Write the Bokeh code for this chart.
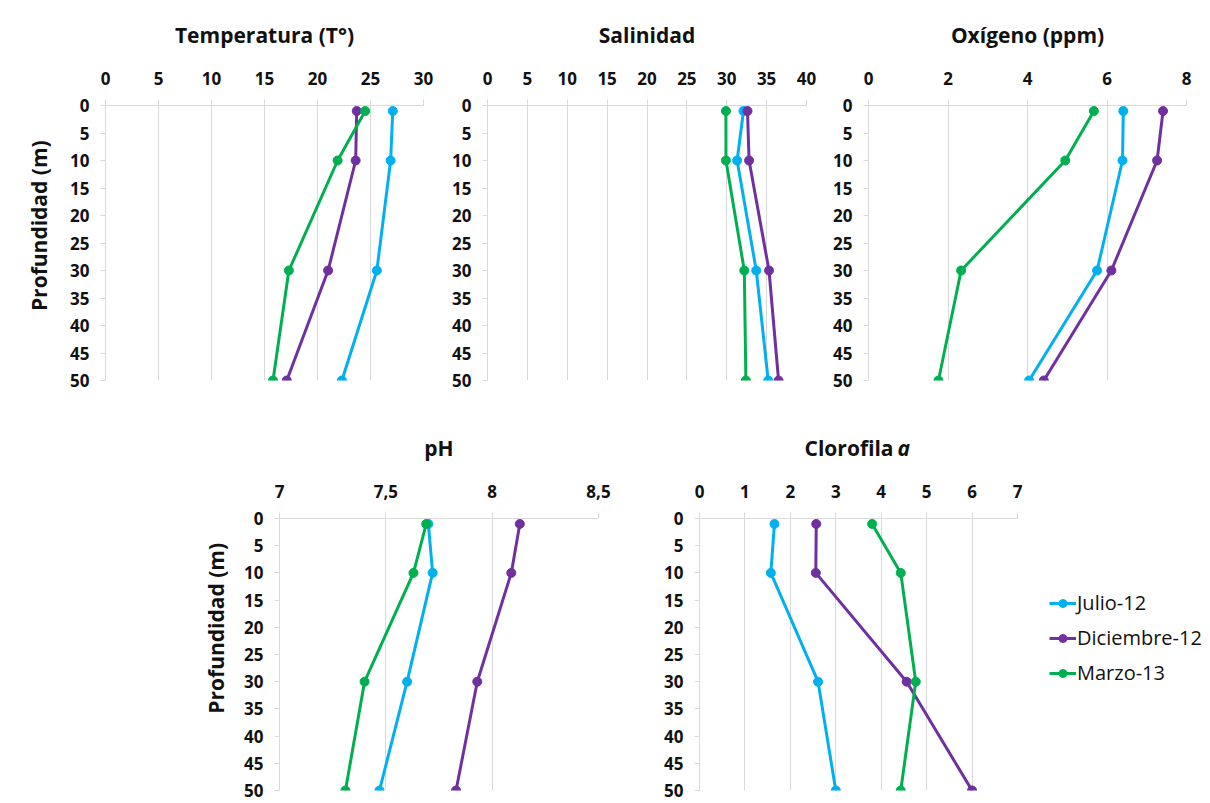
import math
from bokeh.plotting import figure
from bokeh.layouts import column, row
from bokeh.models import Range1d, FixedTicker, Label, Legend, LegendItem
from bokeh.embed import file_html
from bokeh.resources import INLINE

# ---------------- data ----------------
series = ["Julio-12", "Diciembre-12", "Marzo-13"]
colors = ["#00B0F0", "#7030A0", "#00B050"]
depth = [1, 10, 30, 50]
depth_ticks = [0, 5, 10, 15, 20, 25, 30, 35, 40, 45, 50]

temp_julio = [27.1, 26.9, 25.6, 22.3]
temp_dic = [23.7, 23.6, 21.0, 17.1]
temp_marzo = [24.5, 21.9, 17.3, 15.8]

sal_julio = [32.1, 31.3, 33.7, 35.2]
sal_dic = [32.6, 32.8, 35.3, 36.5]
sal_marzo = [29.9, 29.9, 32.2, 32.4]

oxi_julio = [6.41, 6.39, 5.75, 4.04]
oxi_dic = [7.41, 7.26, 6.11, 4.41]
oxi_marzo = [5.67, 4.95, 2.33, 1.76]

ph_julio = [7.70, 7.72, 7.60, 7.47]
ph_dic = [8.13, 8.09, 7.93, 7.83]
ph_marzo = [7.69, 7.63, 7.40, 7.31]

clo_julio = [1.65, 1.57, 2.61, 3.00]
clo_dic = [2.57, 2.56, 4.56, 6.00]
clo_marzo = [3.80, 4.43, 4.76, 4.43]

temp_ticks = [0, 5, 10, 15, 20, 25, 30]
temp_labels = ["0", "5", "10", "15", "20", "25", "30"]
sal_ticks = [0, 5, 10, 15, 20, 25, 30, 35, 40]
sal_labels = ["0", "5", "10", "15", "20", "25", "30", "35", "40"]
oxi_ticks = [0, 2, 4, 6, 8]
oxi_labels = ["0", "2", "4", "6", "8"]
ph_ticks = [7, 7.5, 8, 8.5]
ph_labels = ["7", "7,5", "8", "8,5"]
clo_ticks = [0, 1, 2, 3, 4, 5, 6, 7]
clo_labels = ["0", "1", "2", "3", "4", "5", "6", "7"]

titles = ["Temperatura (T°)", "Salinidad", "Oxígeno (ppm)", "pH", "Clorofila", "a"]
ylabel = "Profundidad (m)"

FONT = "Open Sans"
TXT = "#111111"
GRID = "#d9d9d9"
TITLE_SIZE = "21px"


def make_panel(vals, xticks, xlabels, w, bl, br, h, bt, bb):
    p = figure(width=w, height=h, x_range=Range1d(xticks[0], xticks[-1]),
               y_range=Range1d(50, 0), x_axis_location="above",
               output_backend="svg", toolbar_location=None,
               min_border_left=bl, min_border_right=br,
               min_border_top=bt, min_border_bottom=bb)
    p.outline_line_color = None
    p.ygrid.visible = False
    p.xgrid.grid_line_color = GRID
    p.xgrid.grid_line_width = 1

    xa = p.xaxis[0]
    xa.ticker = FixedTicker(ticks=xticks)
    xa.major_label_overrides = {t: l for t, l in zip(xticks, xlabels)}
    ya = p.yaxis[0]
    ya.ticker = FixedTicker(ticks=depth_ticks)
    for ax in (xa, ya):
        ax.axis_line_color = GRID
        ax.major_tick_line_color = GRID
        ax.minor_tick_line_color = None
        ax.major_tick_in = 0
        ax.major_label_text_font = FONT
        ax.major_label_text_font_style = "bold"
        ax.major_label_text_font_size = "17px"
        ax.major_label_text_color = TXT
    xa.major_tick_out = 6
    xa.major_label_standoff = 15
    ya.major_tick_out = 5
    ya.major_label_standoff = 11

    renderers = []
    for xs, c in zip(vals, colors):
        ln = p.line(xs, depth, line_color=c, line_width=3)
        sc = p.scatter(xs, depth, size=9, fill_color=c, line_color=c)
        renderers.append((ln, sc))
    return p, renderers


def make_strip(w, h, items, angle=0.0, baseline="alphabetic", size=TITLE_SIZE):
    s = figure(width=w, height=h, x_range=Range1d(0, w), y_range=Range1d(0, h),
               x_axis_type=None, y_axis_type=None, output_backend="svg",
               toolbar_location=None, min_border=0)
    s.outline_line_color = None
    s.grid.visible = False
    for x, y, text, align, style in items:
        s.add_layout(Label(x=x, y=y, text=text, text_align=align, angle=angle,
                           text_baseline=baseline, text_font=FONT,
                           text_font_style=style, text_font_size=size,
                           text_color=TXT))
    return s


# ---- top row geometry ----
TOP_STRIP_H = 50
TOP_LAB_W = 60
top_specs = [  # width, border left, border right
    (380, 45, 17),
    (380, 47, 14),
    (390, 48, 24),
]
TOP_H, TOP_BT, TOP_BB = 350, 55, 20

p1, _ = make_panel([temp_julio, temp_dic, temp_marzo], temp_ticks, temp_labels,
                   *top_specs[0], TOP_H, TOP_BT, TOP_BB)
p2, _ = make_panel([sal_julio, sal_dic, sal_marzo], sal_ticks, sal_labels,
                   *top_specs[1], TOP_H, TOP_BT, TOP_BB)
p3, _ = make_panel([oxi_julio, oxi_dic, oxi_marzo], oxi_ticks, oxi_labels,
                   *top_specs[2], TOP_H, TOP_BT, TOP_BB)

centers = []
x0 = TOP_LAB_W
for w, bl, br in top_specs:
    centers.append(x0 + bl + (w - bl - br) / 2)
    x0 += w
strip_top = make_strip(1210, TOP_STRIP_H, [
    (centers[0], 16, titles[0], "center", "bold"),
    (centers[1], 16, titles[1], "center", "bold"),
    (centers[2], 16, titles[2], "center", "bold"),
])
ylab_top = make_strip(TOP_LAB_W, TOP_H, [(38, 197, ylabel, "center", "bold")],
                      angle=math.pi / 2, baseline="middle", size="21px")

# ---- bottom row geometry ----
BOT_STRIP_H = 70
BOT_LAB_W = 240
bot_specs = [
    (400, 39, 42),
    (391, 59, 14),
]
BOT_H, BOT_BT, BOT_BB = 332, 48, 12

p4, _ = make_panel([ph_julio, ph_dic, ph_marzo], ph_ticks, ph_labels,
                   *bot_specs[0], BOT_H, BOT_BT, BOT_BB)
p5, rs = make_panel([clo_julio, clo_dic, clo_marzo], clo_ticks, clo_labels,
                    *bot_specs[1], BOT_H, BOT_BT, BOT_BB)

c4 = BOT_LAB_W + bot_specs[0][1] + (bot_specs[0][0] - bot_specs[0][1] - bot_specs[0][2]) / 2
c5 = (BOT_LAB_W + bot_specs[0][0] + bot_specs[1][1]
      + (bot_specs[1][0] - bot_specs[1][1] - bot_specs[1][2]) / 2)
strip_bot = make_strip(1210, BOT_STRIP_H, [
    (c4, 23, titles[3], "center", "bold"),
    (c5 + 35, 23, titles[4], "right", "bold"),
    (c5 + 39, 23, titles[5], "left", "bold italic"),
])
ylab_bot = make_strip(BOT_LAB_W, BOT_H, [(215, 198, ylabel, "center", "bold")],
                      angle=math.pi / 2, baseline="middle", size="21px")

# legend panel (legend samples use the Clorofila series, kept out of view)
LEG_W = 1210 - BOT_LAB_W - bot_specs[0][0] - bot_specs[1][0]
p6 = figure(width=LEG_W, height=BOT_H, x_range=Range1d(100, 101), y_range=Range1d(100, 101),
            x_axis_type=None, y_axis_type=None, output_backend="svg",
            toolbar_location=None, min_border=0)
p6.outline_line_color = None
p6.grid.visible = False
items = []
for s, c, xs in zip(series, colors, [clo_julio, clo_dic, clo_marzo]):
    ln = p6.line(xs, depth, line_color=c, line_width=3)
    sc = p6.scatter(xs, depth, size=9, fill_color=c, line_color=c)
    items.append(LegendItem(label=s, renderers=[ln, sc]))
legend = Legend(items=items, location=(18, 104), orientation="vertical",
                label_text_font=FONT, label_text_font_size="20px", label_text_color=TXT,
                glyph_width=27, glyph_height=20, label_height=20, spacing=8,
                label_standoff=1, padding=0, margin=0,
                border_line_color=None, background_fill_alpha=0)
p6.add_layout(legend)

layout = column(strip_top, row(ylab_top, p1, p2, p3), strip_bot, row(ylab_bot, p4, p5, p6))

with open("out.html", "w") as f:
    f.write(file_html(layout, INLINE))
